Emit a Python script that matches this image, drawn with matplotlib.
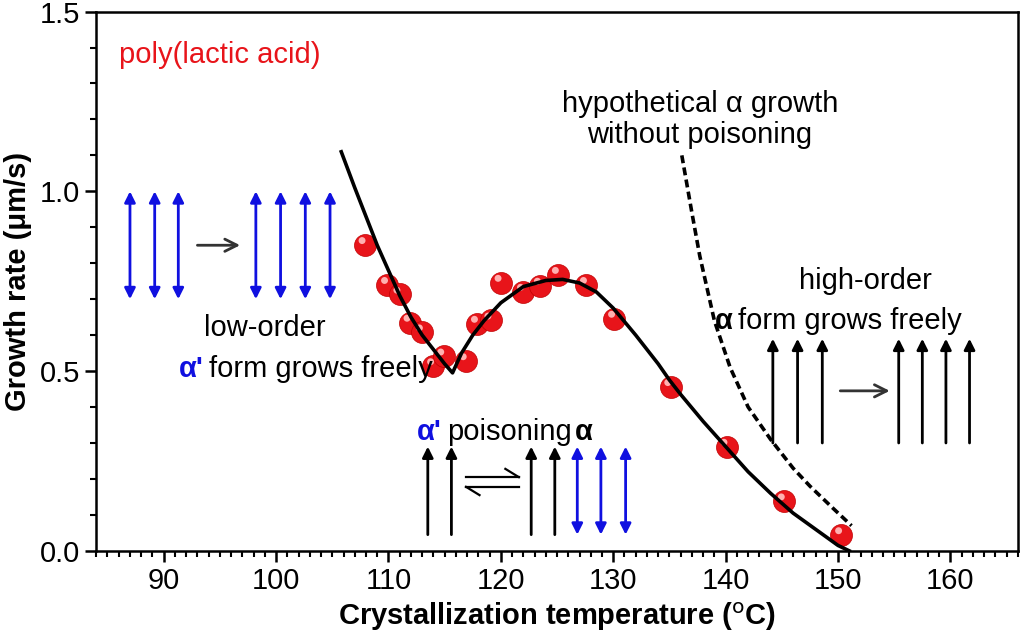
import matplotlib
matplotlib.use("Agg")
import matplotlib.pyplot as plt
from matplotlib.ticker import MultipleLocator

plt.rcParams['font.family'] = ['Liberation Sans Narrow', 'Liberation Sans', 'DejaVu Sans']

# measured data
temp = [107.9, 109.9, 111.0, 111.9, 113.0, 114.0, 114.9, 116.9, 117.9, 119.1,
        120.0, 122.0, 123.5, 125.1, 127.6, 130.1, 135.1, 140.1, 145.2, 150.3]
rate = [0.851, 0.740, 0.713, 0.635, 0.608, 0.514, 0.541, 0.528, 0.632, 0.641,
        0.746, 0.721, 0.738, 0.768, 0.740, 0.646, 0.456, 0.290, 0.138, 0.044]

# fit curve
fit_t = [105.8, 107, 108, 109, 110, 111, 112, 113, 114, 115, 115.7,
         116.5, 117.5, 118.5, 120, 122, 124, 125.5, 127, 128.5, 130, 132, 134,
         135, 136, 138, 140, 142, 144, 146, 148, 150, 151]
fit_r = [1.11, 1.01, 0.93, 0.85, 0.78, 0.71, 0.65, 0.60, 0.56, 0.52, 0.495,
         0.55, 0.60, 0.64, 0.69, 0.735, 0.752, 0.755, 0.745, 0.72, 0.675, 0.60, 0.52,
         0.475, 0.435, 0.36, 0.29, 0.22, 0.16, 0.105, 0.06, 0.015, 0.0]

# hypothetical alpha growth (dashed)
hyp_t = [136.1, 137.0, 137.7, 139.0, 140.4, 142.0, 144.0, 146.0, 147.5, 149.5, 151.2]
hyp_r = [1.10, 0.94, 0.82, 0.64, 0.51, 0.40, 0.31, 0.23, 0.18, 0.12, 0.07]

fig = plt.figure(figsize=(10.24, 6.42), dpi=100)
ax = fig.add_axes([0.094, 0.142, 0.900, 0.840])

ax.plot(fit_t, fit_r, color='black', lw=2.6, zorder=3)
ax.plot(hyp_t, hyp_r, color='black', lw=2.6, ls=(0, (2.2, 1.2)), zorder=3)
ax.scatter(temp, rate, s=250, color='#e8141a', edgecolors='#c00000', linewidths=0.5, zorder=2)
ax.scatter([t - 0.25 for t in temp], [r + 0.012 for r in rate], s=25, color='#ffb0b0',
           edgecolors='none', zorder=2)

def uparrow(x, y0, y1, c):
    ax.annotate('', xy=(x, y1), xytext=(x, y0),
                arrowprops=dict(arrowstyle='-|>', color=c, lw=2, mutation_scale=16,
                                shrinkA=0, shrinkB=0))

def dblarrow(x, y0, y1, c):
    ax.annotate('', xy=(x, y1), xytext=(x, y0),
                arrowprops=dict(arrowstyle='<|-|>', color=c, lw=2, mutation_scale=16,
                                shrinkA=0, shrinkB=0))

def harrow(x0, x1, y):
    ax.annotate('', xy=(x1, y), xytext=(x0, y),
                arrowprops=dict(arrowstyle='->', color='#333333', lw=2, mutation_scale=22,
                                shrinkA=0, shrinkB=0))

blue = '#1010e0'
for x in [87.0, 89.2, 91.3, 98.2, 100.4, 102.6, 104.8]:
    dblarrow(x, 0.70, 1.0, blue)
harrow(93.0, 96.8, 0.85)

for x in [113.5, 115.6, 122.7, 124.8]:
    uparrow(x, 0.045, 0.29, 'black')
for x in [126.8, 128.9, 131.1]:
    dblarrow(x, 0.045, 0.29, blue)
# equilibrium half-arrows
ax.plot([116.9, 121.6], [0.205, 0.205], color='black', lw=1.6)
ax.plot([121.6, 120.4], [0.205, 0.228], color='black', lw=1.6)
ax.plot([116.9, 121.6], [0.178, 0.178], color='black', lw=1.6)
ax.plot([116.9, 118.1], [0.178, 0.155], color='black', lw=1.6)

for x in [144.2, 146.4, 148.6, 155.4, 157.5, 159.6, 161.7]:
    uparrow(x, 0.30, 0.59, 'black')
harrow(150.2, 154.6, 0.445)

fs = 21
ax.text(86.0, 1.38, 'poly(lactic acid)', color='#e8141a', fontsize=fs, va='center')
ax.text(137.7, 1.20, 'hypothetical α growth\nwithout poisoning', fontsize=fs, ha='center',
        va='center', linespacing=1.15)
ax.text(99.0, 0.62, 'low-order', fontsize=fs, ha='center', va='center')
ax.text(93.6, 0.505, "α'", fontsize=fs, ha='right', va='center', color=blue, fontweight='bold')
ax.text(94.0, 0.505, 'form grows freely', fontsize=fs, ha='left', va='center')
ax.text(152.4, 0.75, 'high-order', fontsize=fs, ha='center', va='center')
ax.text(140.6, 0.64, 'α', fontsize=fs, ha='right', va='center', fontweight='bold')
ax.text(141.1, 0.64, 'form grows freely', fontsize=fs, ha='left', va='center')
ax.text(114.7, 0.33, "α'", fontsize=fs, ha='right', va='center', color=blue, fontweight='bold')
ax.text(115.2, 0.33, 'poisoning', fontsize=fs, ha='left', va='center')
ax.text(126.6, 0.33, 'α', fontsize=fs, ha='left', va='center', fontweight='bold')

ax.set_xlim(84, 166)
ax.set_ylim(0, 1.5)
ax.xaxis.set_major_locator(MultipleLocator(10))
ax.xaxis.set_minor_locator(MultipleLocator(1))
ax.yaxis.set_major_locator(MultipleLocator(0.5))
ax.yaxis.set_minor_locator(MultipleLocator(0.1))
ax.tick_params(which='major', direction='out', length=8, width=1.8, labelsize=21)
ax.tick_params(which='minor', direction='out', length=4, width=1.5)
ax.set_xticks([90, 100, 110, 120, 130, 140, 150, 160])
ax.set_yticks([0.0, 0.5, 1.0, 1.5])
ax.set_yticklabels(['0.0', '0.5', '1.0', '1.5'])
for s in ax.spines.values():
    s.set_linewidth(1.8)
ax.set_xlabel('Crystallization temperature ($^{\\rm o}$C)', fontsize=21, fontweight='bold',
              labelpad=4)
ax.set_ylabel('Growth rate (μm/s)', fontsize=21, fontweight='bold', labelpad=6)

fig.savefig('out.png', dpi=100)
